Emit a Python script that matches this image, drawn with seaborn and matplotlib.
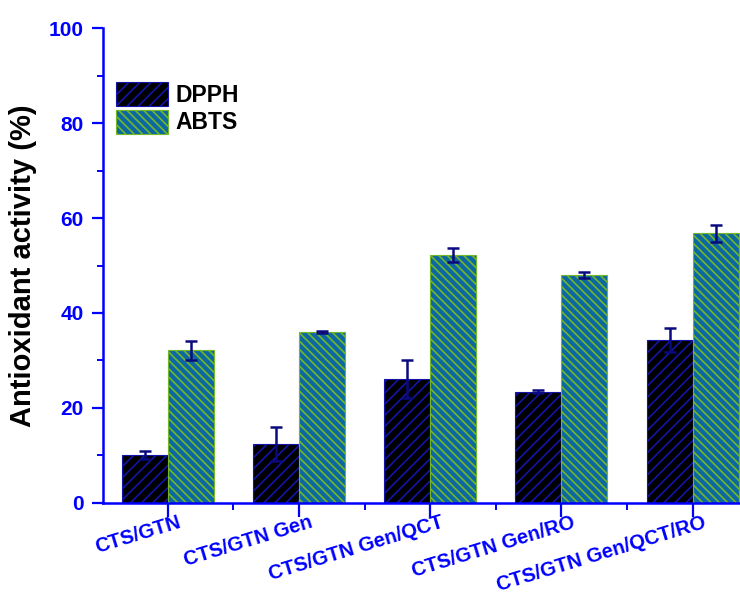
import matplotlib
matplotlib.use("Agg")
import matplotlib.pyplot as plt
import matplotlib.transforms as mtransforms
from matplotlib.patches import Patch
from matplotlib.ticker import MultipleLocator, FixedLocator
import numpy as np
import pandas as pd
import seaborn as sns

# Samples and measured antioxidant activity (%)
samples = ["CTS/GTN", "CTS/GTN Gen", "CTS/GTN Gen/QCT", "CTS/GTN Gen/RO", "CTS/GTN Gen/QCT/RO"]
assays = ["DPPH", "ABTS"]
dpph_mean = [10.1, 12.4, 26.1, 23.4, 34.3]
dpph_err = [0.8, 3.6, 4.1, 0.3, 2.5]
abts_mean = [32.2, 36.0, 52.2, 48.0, 56.8]
abts_err = [2.0, 0.3, 1.5, 0.7, 1.8]

df = pd.DataFrame({
    "sample": samples * 2,
    "assay": [assays[0]] * len(samples) + [assays[1]] * len(samples),
    "activity": dpph_mean + abts_mean,
    "err": dpph_err + abts_err,
})

sns.set_theme(style="white")
plt.rcParams["font.family"] = ["Liberation Sans", "DejaVu Sans"]
plt.rcParams["hatch.linewidth"] = 1.2

BLUE = "#0000ff"
fill_colors = {"DPPH": "#000000", "ABTS": "#0b68a2"}
hatch_colors = {"DPPH": "#1414a8", "ABTS": "#72b62a"}
hatches = {"DPPH": "///", "ABTS": "\\\\\\\\"}

fig = plt.figure(figsize=(7.40, 5.98), dpi=100)
ax = fig.add_axes([0.139, 0.159, 0.875, 0.794])

sns.barplot(data=df, x="sample", y="activity", hue="assay", hue_order=assays,
            order=samples, palette=fill_colors, width=0.7, errorbar=None,
            ax=ax, legend=False, saturation=1)

# Hatch styling per series; containers follow hue order
for assay, cont in zip(assays, ax.containers):
    for bar in cont:
        bar.set_hatch(hatches[assay])
        bar.set_edgecolor(hatch_colors[assay])
        bar.set_linewidth(0.8)

# Error bars placed at the centers of the drawn bars
for assay, cont in zip(assays, ax.containers):
    sub = df[df["assay"] == assay].set_index("sample").loc[samples]
    xs = [b.get_x() + b.get_width() / 2 for b in cont]
    ax.errorbar(xs, sub["activity"].values, yerr=sub["err"].values, fmt="none",
                ecolor="#0a0a80", elinewidth=1.8, capsize=4.2, capthick=1.8, zorder=5)

# Legend
handles = [Patch(facecolor=fill_colors[a], edgecolor=hatch_colors[a], hatch=hatches[a],
                 linewidth=0.8) for a in assays]
leg = ax.legend(handles, assays, loc="upper left", bbox_to_anchor=(-0.012, 0.93),
                frameon=False, handlelength=2.3, handleheight=1.25, handletextpad=0.3,
                labelspacing=0.12, borderaxespad=0.5,
                prop={"weight": "bold", "size": 16.5})
for t in leg.get_texts():
    t.set_color("black")

ax.set_xlim(-0.494, 4.44)
ax.set_ylim(0, 100)
ax.yaxis.set_major_locator(MultipleLocator(20))
ax.yaxis.set_minor_locator(MultipleLocator(10))
ax.xaxis.set_minor_locator(FixedLocator(np.arange(-0.5, 5, 1.0)))

ax.set_xlabel("")
ax.set_ylabel("Antioxidant activity (%)", fontsize=21, fontweight="bold", color="black", labelpad=8)

for side in ["top", "right"]:
    ax.spines[side].set_visible(False)
for side in ["left", "bottom"]:
    ax.spines[side].set_color(BLUE)
    ax.spines[side].set_linewidth(1.8)

ax.tick_params(axis="y", which="major", direction="out", length=8, width=1.6,
               color=BLUE, labelcolor=BLUE, labelsize=15, left=True, pad=6)
ax.tick_params(axis="y", which="minor", direction="out", length=4, width=1.4,
               color=BLUE, left=True)
ax.tick_params(axis="x", which="major", direction="out", length=10, width=1.6,
               color=BLUE, labelcolor=BLUE, labelsize=15, bottom=True, pad=0)
ax.tick_params(axis="x", which="minor", direction="out", length=5, width=1.4,
               color=BLUE, bottom=True)
for lbl in ax.get_yticklabels():
    lbl.set_fontweight("bold")
ax.set_xticks(range(len(samples)))
ax.set_xticklabels(samples, rotation=17, ha="right", rotation_mode="anchor",
                   fontweight="bold", fontsize=14.5, color=BLUE)
shift = mtransforms.ScaledTranslation(0.1, 0.04, fig.dpi_scale_trans)
for lbl in ax.get_xticklabels():
    lbl.set_transform(lbl.get_transform() + shift)

fig.savefig("out.png", dpi=100)
